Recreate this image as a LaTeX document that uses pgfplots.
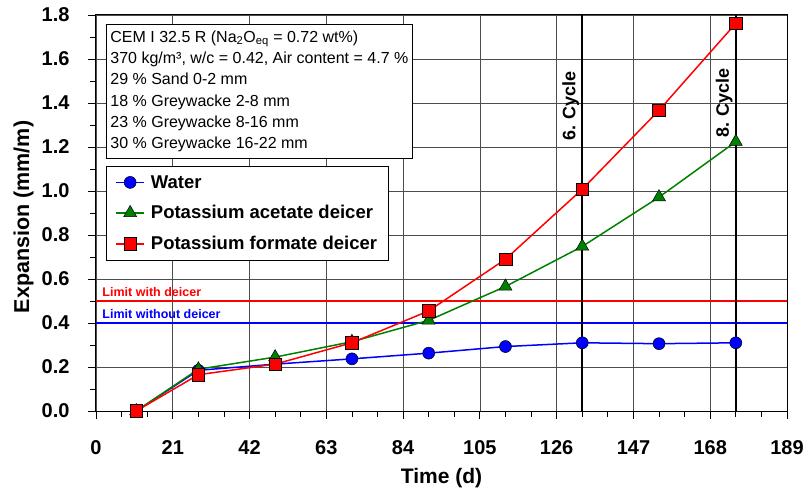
\documentclass[border=0pt]{standalone}
\usepackage{fontspec}
\setmainfont{Liberation Sans}
\usepackage{pgfplots}
\pgfplotsset{compat=1.18}
\definecolor{cblue}{RGB}{0,0,255}
\definecolor{cgreen}{RGB}{0,128,0}
\definecolor{cred}{RGB}{255,0,0}
\begin{document}
\begin{tikzpicture}
\path[use as bounding box] (-96pt,-77pt) rectangle (710pt,411pt);
\begin{axis}[
  scale only axis, width=691pt, height=396pt,
  xmin=0, xmax=189, ymin=0, ymax=1.8,
  xtick={0,21,42,63,84,105,126,147,168,189},
  ytick={0,0.2,0.4,0.6,0.8,1.0,1.2,1.4,1.6,1.8},
  minor x tick num=2, minor y tick num=1,
  xtick pos=bottom, ytick pos=left,
  tick align=outside,
  major tick length=8pt, minor tick length=6pt,
  every tick/.style={black, line width=0.8pt},
  axis line style={black, line width=1pt},
  grid=major,
  major grid style={black!70, line width=0.7pt},
  /pgf/number format/assume math mode=true,
  yticklabel style={/pgf/number format/fixed, /pgf/number format/fixed zerofill, /pgf/number format/precision=1,
    font=\bfseries\fontsize{20}{20}\selectfont, xshift=-15pt},
  xticklabel style={font=\bfseries\fontsize{20}{20}\selectfont, yshift=-18pt},
  xlabel={Time (d)},
  ylabel={Expansion (mm/m)},
  xlabel style={font=\bfseries\fontsize{21}{21}\selectfont, at={(axis description cs:0.5,-0.17)}, anchor=center},
  ylabel style={font=\bfseries\fontsize{21.5}{21.5}\selectfont, at={(axis description cs:-0.105,0.49)}, anchor=center},
  legend cell align=left,
  legend style={at={(rel axis cs:0.0145,0.619)}, anchor=north west, draw=black, fill=white,
    line width=0.8pt, font=\bfseries\fontsize{18.5}{20}\selectfont,
    inner xsep=9pt, inner ysep=7pt, row sep=12pt,
    /tikz/every odd column/.append style={column sep=4pt}},
  legend image code/.code={%
    \draw[#1,mark repeat=2,mark phase=2] plot coordinates {(0pt,0pt) (14pt,0pt) (28pt,0pt)};},
]
% limit lines
\addplot[cred, line width=1.5pt, forget plot] coordinates {(0,0.5) (189,0.5)};
\addplot[cblue, line width=1.5pt, forget plot] coordinates {(0,0.4) (189,0.4)};
\node[anchor=south west, text=cred, font=\bfseries\fontsize{12.5}{12.5}\selectfont, inner sep=3pt] at (axis cs:0.9,0.505) {Limit with deicer};
\node[anchor=south west, text=cblue, font=\bfseries\fontsize{12.5}{12.5}\selectfont, inner sep=3pt] at (axis cs:0.9,0.405) {Limit without deicer};
% cycle lines
\draw[black, line width=1.6pt] (axis cs:133,0) -- (axis cs:133,1.8);
\draw[black, line width=1.6pt] (axis cs:175,0) -- (axis cs:175,1.8);
\node[rotate=90, anchor=south, font=\bfseries\fontsize{18}{18}\selectfont, inner sep=3pt] at (axis cs:133,1.386) {6. Cycle};
\node[rotate=90, anchor=south, font=\bfseries\fontsize{18}{18}\selectfont, inner sep=3pt] at (axis cs:175,1.40) {8. Cycle};
% data
\addplot[cblue, line width=1.5pt, mark=*, mark size=6pt, mark options={fill=cblue, draw=black, line width=0.5pt}]
  coordinates {(11,0) (28,0.185) (49,0.213) (70,0.237) (91,0.263) (112,0.293) (133,0.310) (154,0.306) (175,0.310)};
\addlegendentry{Water}
\addplot[cgreen, line width=1.5pt, mark=triangle*, mark size=7.5pt, mark options={fill=cgreen, draw=black, line width=0.5pt}]
  coordinates {(11,0) (28,0.19) (49,0.245) (70,0.315) (91,0.412) (112,0.566) (133,0.748) (154,0.972) (175,1.224)};
\addlegendentry{Potassium acetate deicer}
\addplot[cred, line width=1.5pt, mark=square*, mark size=6.3pt, mark options={fill=cred, draw=black, line width=0.5pt}]
  coordinates {(11,0) (28,0.165) (49,0.213) (70,0.31) (91,0.455) (112,0.69) (133,1.008) (154,1.367) (175,1.762)};
\addlegendentry{Potassium formate deicer}
% info box
\node[anchor=north west, draw=black, line width=0.8pt, fill=white, align=left, inner xsep=4pt, inner ysep=6pt,
  font=\fontsize{16}{21.3}\selectfont] at (rel axis cs:0.0145,0.977) {%
  CEM I 32.5 R (Na\textsubscript{2}O\textsubscript{eq} = 0.72 wt\%)\\
  370 kg/m³, w/c = 0.42, Air content = 4.7 \%\\
  29 \% Sand 0-2 mm\\
  18 \% Greywacke 2-8 mm\\
  23 \% Greywacke 8-16 mm\\
  30 \% Greywacke 16-22 mm};
\end{axis}
\end{tikzpicture}
\end{document}
